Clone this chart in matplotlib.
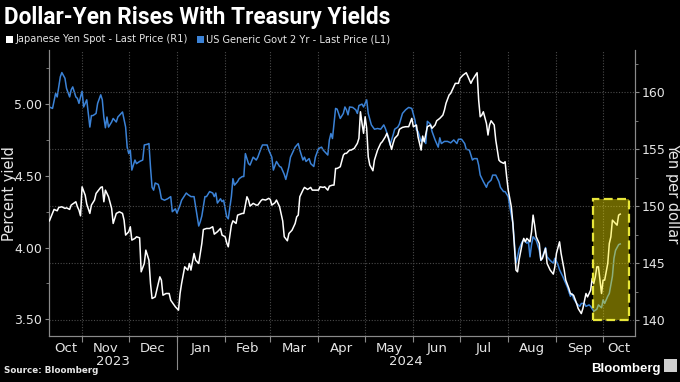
import matplotlib
matplotlib.use('Agg')
import matplotlib.pyplot as plt
import matplotlib.dates as mdates
from matplotlib.patches import Rectangle
from matplotlib.ticker import MultipleLocator, FixedLocator
from matplotlib.transforms import blended_transform_factory
import pandas as pd

start = pd.Timestamp('2023-10-11')

# US Generic Govt 2 Yr (left axis), x = days since start
yield_days = [0, 2, 4, 5, 6, 7, 8, 10, 11, 13, 14, 15, 17, 18, 19, 20, 21, 22, 24, 25,
              26, 27, 28, 30, 31, 33, 34, 35, 36, 37, 38, 40, 41, 43, 44, 47, 49, 50, 51, 52,
              53, 55, 56, 58, 60, 61, 63, 64, 65, 66, 67, 68, 70, 71, 72, 74, 76, 78, 79, 81,
              82, 84, 85, 88, 89, 91, 93, 94, 96, 97, 98, 100, 101, 103, 105, 106, 107, 108, 110, 111,
              112, 114, 115, 117, 118, 119, 121, 122, 124, 125, 126, 128, 129, 131, 133, 134, 136, 137, 140, 141,
              143, 144, 146, 148, 149, 151, 152, 154, 155, 158, 160, 161, 163, 164, 165, 167, 168, 170, 171, 173,
              175, 176, 179, 180, 181, 182, 183, 184, 185, 187, 189, 190, 191, 192, 193, 195, 197, 198, 199, 201,
              202, 204, 205, 207, 209, 211, 213, 215, 216, 218, 219, 221, 222, 224, 225, 227, 229, 231, 233, 235,
              236, 237, 239, 240, 242, 243, 245, 246, 248, 250, 251, 252, 254, 256, 258, 260, 262, 263, 265, 267,
              268, 270, 272, 273, 275, 276, 277, 279, 281, 282, 284, 285, 287, 289, 290, 292, 293, 295, 296, 298,
              299, 300, 301, 302, 304, 305, 307, 308, 309, 310, 311, 313, 315, 316, 317, 319, 320, 322, 324, 325,
              327, 328, 330, 332, 333, 335, 336, 337, 339, 341, 342, 344, 345, 347, 348, 350, 352, 353, 355, 356,
              357, 359, 360, 362, 363, 364, 366, 367]
yield_2y = [4.98, 4.97, 5.075, 5.05, 5.12, 5.19, 5.22, 5.18, 5.11, 5.05, 5.10, 5.12, 5.05, 5.04, 5.005, 5.05, 5.09, 4.98, 5.03, 4.935,
            4.84, 4.92, 4.92, 4.935, 5.005, 5.065, 5.03, 4.91, 4.835, 4.91, 4.84, 4.875, 4.90, 4.875, 4.91, 4.945, 4.84, 4.70, 4.655, 4.68,
            4.54, 4.61, 4.585, 4.60, 4.61, 4.715, 4.72, 4.725, 4.56, 4.42, 4.40, 4.45, 4.44, 4.40, 4.34, 4.33, 4.34, 4.355, 4.25, 4.27,
            4.24, 4.295, 4.33, 4.38, 4.37, 4.355, 4.355, 4.285, 4.15, 4.18, 4.22, 4.355, 4.355, 4.39, 4.38, 4.355, 4.38, 4.31, 4.34, 4.32,
            4.33, 4.215, 4.20, 4.355, 4.48, 4.435, 4.46, 4.48, 4.495, 4.495, 4.655, 4.585, 4.575, 4.63, 4.61, 4.63, 4.69, 4.715, 4.715, 4.68,
            4.63, 4.54, 4.60, 4.565, 4.56, 4.51, 4.475, 4.565, 4.63, 4.70, 4.725, 4.68, 4.61, 4.63, 4.60, 4.62, 4.585, 4.565, 4.63, 4.69,
            4.70, 4.68, 4.645, 4.75, 4.795, 4.76, 4.865, 4.97, 4.965, 4.90, 4.935, 4.98, 4.96, 4.925, 4.98, 4.977, 4.96, 4.935, 4.99, 5.00,
            4.98, 5.03, 4.935, 4.855, 4.825, 4.83, 4.825, 4.855, 4.83, 4.77, 4.715, 4.785, 4.825, 4.84, 4.86, 4.935, 4.96, 4.977, 4.97, 4.89,
            4.82, 4.81, 4.74, 4.76, 4.725, 4.88, 4.86, 4.81, 4.75, 4.70, 4.765, 4.725, 4.74, 4.74, 4.73, 4.75, 4.725, 4.755, 4.755, 4.725,
            4.685, 4.68, 4.61, 4.62, 4.62, 4.575, 4.505, 4.46, 4.42, 4.45, 4.47, 4.505, 4.505, 4.46, 4.42, 4.39, 4.39, 4.355, 4.285, 4.17,
            4.03, 3.89, 3.935, 3.99, 4.04, 4.055, 4.03, 4.04, 3.935, 4.02, 4.075, 4.05, 3.98, 3.91, 3.935, 4.00, 3.935, 3.91, 3.89, 3.925,
            3.88, 3.845, 3.80, 3.75, 3.725, 3.66, 3.68, 3.645, 3.61, 3.59, 3.61, 3.61, 3.59, 3.60, 3.59, 3.555, 3.57, 3.60, 3.58, 3.635,
            3.61, 3.66, 3.68, 3.80, 3.925, 3.98, 4.02, 4.025]

# Japanese Yen Spot (right axis)
yen_days = [0, 2, 3, 5, 6, 8, 10, 11, 13, 14, 17, 18, 19, 20, 21, 23, 24, 26, 27, 29,
            30, 33, 34, 35, 36, 38, 40, 41, 43, 45, 47, 48, 49, 51, 52, 53, 55, 56, 58, 59,
            61, 62, 64, 65, 66, 68, 69, 71, 72, 73, 75, 77, 78, 81, 83, 84, 85, 87, 89, 90,
            91, 93, 94, 96, 98, 99, 101, 103, 105, 106, 108, 110, 111, 113, 114, 115, 117, 118, 120, 121,
            124, 125, 127, 128, 129, 131, 133, 134, 136, 137, 139, 141, 142, 143, 145, 146, 148, 150, 151, 153,
            154, 156, 158, 159, 160, 161, 163, 164, 166, 168, 169, 171, 173, 174, 176, 177, 179, 180, 182, 183,
            184, 185, 187, 189, 190, 191, 193, 194, 196, 198, 199, 200, 201, 202, 203, 204, 205, 206, 208, 209,
            211, 213, 214, 216, 217, 219, 220, 221, 222, 224, 225, 227, 229, 231, 233, 234, 236, 237, 239, 240,
            241, 243, 245, 246, 248, 249, 251, 253, 254, 255, 257, 258, 260, 261, 263, 264, 266, 268, 269, 271,
            272, 274, 275, 276, 277, 278, 279, 281, 282, 283, 284, 286, 287, 289, 290, 292, 293, 294, 295, 297,
            298, 299, 300, 301, 302, 304, 305, 306, 307, 309, 310, 311, 312, 313, 315, 316, 317, 319, 320, 322,
            324, 325, 326, 328, 329, 331, 332, 334, 335, 337, 339, 340, 342, 343, 345, 346, 348, 349, 350, 351,
            352, 353, 354, 355, 356, 357, 359, 360, 361, 362, 364, 365, 366, 367]
yen_spot = [148.71, 149.36, 149.71, 149.59, 149.88, 149.94, 149.80, 149.85, 149.71, 150.09, 150.38, 149.94, 149.65, 149.15, 151.69, 150.96, 150.18, 149.36, 150.09, 150.53,
            151.11, 151.64, 151.69, 150.38, 151.40, 150.82, 149.80, 148.48, 149.36, 149.50, 149.36, 148.77, 147.46, 147.75, 148.19, 147.02, 147.17, 147.31, 147.22, 144.24,
            144.97, 146.14, 145.26, 143.22, 141.90, 142.04, 142.63, 143.80, 143.51, 142.19, 142.34, 142.34, 141.75, 141.17, 140.88, 142.34, 143.22, 144.68, 144.39, 144.97,
            144.39, 145.85, 145.26, 144.97, 146.72, 147.95, 148.04, 148.04, 148.19, 147.54, 147.75, 148.04, 147.46, 147.31, 146.78, 146.43, 148.33, 148.71, 148.48, 149.21,
            149.36, 149.36, 150.82, 150.53, 150.00, 150.24, 150.09, 150.09, 150.47, 150.59, 150.53, 150.68, 150.59, 150.09, 150.29, 150.53, 149.94, 148.70, 147.31, 146.96,
            147.60, 147.89, 148.48, 149.06, 149.21, 150.82, 151.40, 151.64, 151.46, 151.64, 151.40, 151.40, 151.40, 151.69, 151.64, 151.69, 151.40, 151.75, 151.84, 151.84,
            153.30, 153.30, 153.45, 154.47, 154.62, 154.62, 154.91, 154.91, 155.06, 155.50, 155.94, 158.27, 157.25, 156.38, 157.83, 156.82, 154.33, 153.60, 153.10, 154.04,
            154.91, 155.50, 155.64, 156.08, 156.38, 155.50, 154.97, 155.50, 155.94, 156.23, 156.73, 156.90, 156.96, 156.96, 157.69, 156.96, 157.11, 156.08, 154.91, 156.14,
            155.64, 156.96, 157.11, 156.82, 157.11, 157.48, 157.69, 157.98, 158.42, 159.01, 159.74, 159.88, 160.46, 160.76, 160.76, 161.20, 161.49, 161.69, 161.40, 160.76,
            161.05, 161.49, 161.69, 159.30, 157.83, 157.98, 158.27, 157.25, 156.23, 157.11, 157.48, 157.11, 155.79, 154.04, 153.89, 153.75, 153.89, 152.57, 151.40, 149.94,
            148.48, 146.43, 144.39, 144.24, 145.30, 146.72, 147.17, 146.87, 147.17, 146.87, 147.75, 149.21, 148.33, 147.31, 146.72, 145.26, 145.41, 146.29, 144.97, 144.39,
            144.04, 144.68, 145.85, 146.87, 145.85, 144.39, 143.51, 142.78, 142.34, 142.19, 141.46, 141.02, 140.58, 141.02, 142.34, 142.04, 142.63, 143.66, 143.22, 143.80,
            144.68, 144.68, 143.51, 142.34, 143.51, 143.51, 144.97, 146.72, 147.31, 148.77, 148.48, 148.33, 149.21, 149.30]

month_labels = ['Oct', 'Nov', 'Dec', 'Jan', 'Feb', 'Mar', 'Apr', 'May', 'Jun', 'Jul', 'Aug', 'Sep', 'Oct']
year_labels = ['2023', '2024']

# highlighted stretch (days since start, yen)
box_days = (349.6, 372.5)
box_yen = (140.06, 150.6)

BLUE = '#3b82d6'
GRID = '#4a4a4a'
AXIS = '#8a8a8a'
TXT = '#e6e6e6'

plt.rcParams['font.family'] = ['Liberation Sans Narrow', 'DejaVu Sans']


def to_dates(days):
    return start + pd.to_timedelta(days, unit='D')


fig = plt.figure(figsize=(6.8, 3.82), dpi=100, facecolor='black')
ax = fig.add_axes([0.072, 0.12, 0.862, 0.749], facecolor='black')
ax2 = ax.twinx()

ax.plot(to_dates(yield_days), yield_2y, color=BLUE, lw=1.1, zorder=3)
ax2.plot(to_dates(yen_days), yen_spot, color='white', lw=1.1, zorder=3)

xmin = mdates.date2num(start - pd.Timedelta(hours=7))
xmax = mdates.date2num(start + pd.Timedelta(days=376.6))
ax.set_xlim(xmin, xmax)
ax.set_ylim(3.382, 5.377)
ax2.set_ylim(138.6, 163.68)

# highlight box
x0 = mdates.date2num(start + pd.Timedelta(days=box_days[0]))
x1 = mdates.date2num(start + pd.Timedelta(days=box_days[1]))
ax2.add_patch(Rectangle((x0, box_yen[0]), x1 - x0, box_yen[1] - box_yen[0],
                        facecolor=(1.0, 0.94, 0.0, 0.42), edgecolor='#e8e63a',
                        lw=1.6, ls=(0, (4, 2)), zorder=5))

# month boundaries & labels
bounds = [mdates.date2num(d) for d in pd.date_range('2023-11-01', '2024-10-01', freq='MS')]
edges = [xmin] + bounds + [xmax]
centers = [(a + b) / 2 for a, b in zip(edges[:-1], edges[1:])]
ax.xaxis.set_major_locator(FixedLocator(bounds))
ax.xaxis.set_minor_locator(FixedLocator(centers))
ax.set_xticklabels([], minor=False)
ax.set_xticklabels(month_labels, minor=True)
ax.tick_params(axis='x', which='major', length=4, color=AXIS)
ax.tick_params(axis='x', which='minor', length=0, pad=4, labelsize=9.5, labelcolor=TXT)
ax.grid(axis='x', which='major', color=GRID, ls=(0, (1, 1.5)), lw=0.8)

jan1 = mdates.date2num(pd.Timestamp('2024-01-01'))
trans = blended_transform_factory(ax.transData, ax.transAxes)
ax.plot([jan1, jan1], [0, -0.115], color=AXIS, lw=0.8, transform=trans, clip_on=False)
for lab, (a, b) in zip(year_labels, [(xmin, jan1), (jan1, xmax)]):
    ax.text((a + b) / 2, -0.088, lab, transform=trans, ha='center', va='center',
            color=TXT, fontsize=9.5)

# y axes
ax.yaxis.set_major_locator(MultipleLocator(0.5))
ax.yaxis.set_minor_locator(MultipleLocator(0.25))
ax.yaxis.set_major_formatter(lambda v, p: f'{v:.2f}')
ax2.yaxis.set_major_locator(MultipleLocator(5))
ax2.yaxis.set_minor_locator(MultipleLocator(2.5))
ax2.yaxis.set_major_formatter(lambda v, p: f'{v:.0f}')
for a in (ax, ax2):
    a.tick_params(axis='y', which='major', length=3, color=AXIS, labelsize=9,
                  labelcolor=TXT, pad=2)
    a.tick_params(axis='y', which='minor', length=2, color=AXIS)
    for s in a.spines.values():
        s.set_color(AXIS)
    a.spines['top'].set_visible(False)
ax2.grid(axis='y', which='major', color=GRID, ls=(0, (1, 1.5)), lw=0.8)
ax2.set_zorder(ax.get_zorder() + 1)
ax2.patch.set_visible(False)

ax.set_ylabel('Percent yield', color=TXT, fontsize=10.5, va='center')
ax.yaxis.set_label_coords(-0.068, 0.5)
ax2.set_ylabel('Yen per dollar', color=TXT, fontsize=10.5, rotation=-90, va='center')
ax2.yaxis.set_label_coords(1.064, 0.5)

# title, legend, footer
fig.text(0.006, 0.955, 'Dollar-Yen Rises With Treasury Yields', color='white',
         fontsize=16.3, fontweight='bold', family='Roboto', va='center')
fig.patches.append(Rectangle((0.009, 0.888), 0.01, 0.019, transform=fig.transFigure,
                             facecolor='white', edgecolor='none'))
fig.text(0.023, 0.897, 'Japanese Yen Spot - Last Price (R1)', color=TXT, fontsize=7.1, va='center')
fig.patches.append(Rectangle((0.290, 0.888), 0.01, 0.019, transform=fig.transFigure,
                             facecolor=BLUE, edgecolor='none'))
fig.text(0.303, 0.897, 'US Generic Govt 2 Yr - Last Price (L1)', color=TXT, fontsize=7.1, va='center')

fig.text(0.006, 0.018, 'Source: Bloomberg', color=TXT, fontsize=6.3, fontweight='bold',
         family='DejaVu Sans', va='bottom')
fig.text(0.972, 0.018, 'Bloomberg', color='white', fontsize=9.5, fontweight='bold',
         family='Liberation Sans', ha='right', va='bottom')
fig.patches.append(Rectangle((0.977, 0.027), 0.018, 0.032, transform=fig.transFigure,
                             facecolor='#cfcfcf', edgecolor='none'))

fig.savefig('out.png', dpi=100, facecolor='black')
